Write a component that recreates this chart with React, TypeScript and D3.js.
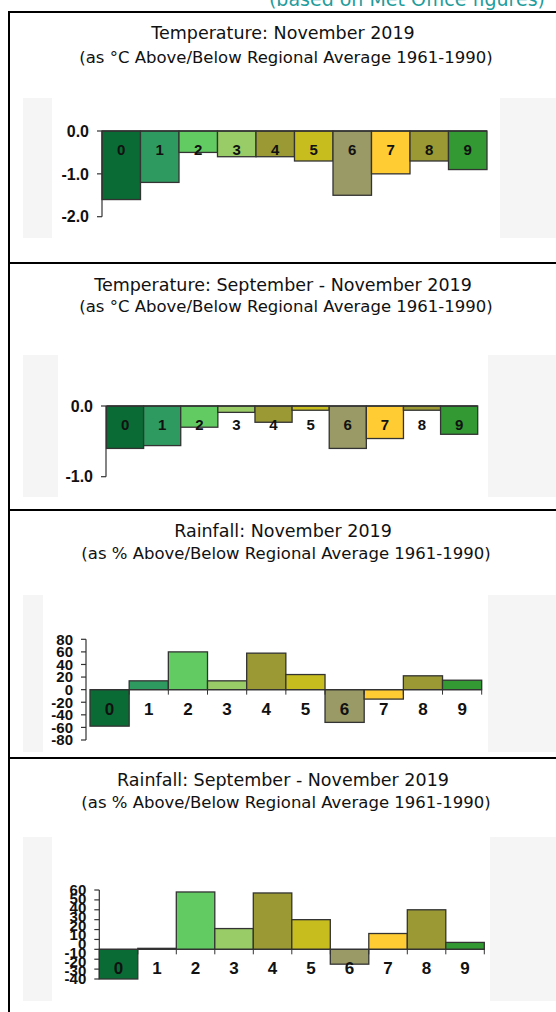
import React from 'react';
import * as d3 from 'd3';

const categories = ['0', '1', '2', '3', '4', '5', '6', '7', '8', '9'];
const barColors = ['#0b6b35', '#2f9a60', '#62cc62', '#99cc66', '#9a9933', '#c8bd1f', '#9a9a66', '#ffcc33', '#9a9933', '#339933'];

const tempNov = [-1.6, -1.2, -0.5, -0.6, -0.6, -0.7, -1.5, -1.0, -0.7, -0.9];
const tempSON = [-0.6, -0.56, -0.3, -0.09, -0.23, -0.06, -0.6, -0.46, -0.06, -0.4];
const rainNov = [-58, 14, 60, 14, 58, 24, -52, -15, 22, 15];
const rainSON = [-30, 1, 58, 21, 57, 30, -15, 16, 40, 7];

const tempNovTicks = [0, -1, -2];
const tempNovTickLabels = ['0.0', '-1.0', '-2.0'];
const tempSONTicks = [0, -1];
const tempSONTickLabels = ['0.0', '-1.0'];
const rainNovTicks = [80, 60, 40, 20, 0, -20, -40, -60, -80];
const rainNovTickLabels = ['80', '60', '40', '20', '0', '-20', '-40', '-60', '-80'];
const rainSONTicks = [60, 50, 40, 30, 20, 10, 0, -10, -20, -30];
const rainSONTickLabels = ['60', '50', '40', '30', '20', '10', '0', '-10', '-20', '-30', '-40'];

const titles = [
  'Temperature: November 2019',
  'Temperature: September - November 2019',
  'Rainfall: November 2019',
  'Rainfall: September - November 2019',
];
const subtitles = [
  '(as °C Above/Below Regional Average 1961-1990)',
  '(as °C Above/Below Regional Average 1961-1990)',
  '(as % Above/Below Regional Average 1961-1990)',
  '(as % Above/Below Regional Average 1961-1990)',
];
const headerNote = '(based on Met Office figures)';

const W = 556;
const H = 1012;

type PanelCfg = {
  values: number[];
  domain: [number, number];
  yRange: [number, number];
  axisX: number;
  barX: [number, number];
  ticks: number[];
  tickLabels: string[];
  labelRange: [number, number];
  labelY: number;
  catTicks: boolean;
  tickFont: number;
  catFont: number;
  bg: { y0: number; y1: number; wx0: number; wx1: number };
  titleY: number;
  subY: number;
  sepY: number;
};

const panels: PanelCfg[] = [
  {
    values: tempNov, domain: [0, -2], yRange: [131, 216.7], axisX: 102, barX: [102, 487],
    ticks: tempNovTicks, tickLabels: tempNovTickLabels, labelRange: [131, 216.7], labelY: 150,
    catTicks: false, tickFont: 16, catFont: 15,
    bg: { y0: 98, y1: 238, wx0: 52, wx1: 500 }, titleY: 39, subY: 63, sepY: 12,
  },
  {
    values: tempSON, domain: [0, -1], yRange: [406, 476.7], axisX: 106, barX: [106.5, 477.7],
    ticks: tempSONTicks, tickLabels: tempSONTickLabels, labelRange: [406, 476.7], labelY: 425,
    catTicks: false, tickFont: 16, catFont: 15,
    bg: { y0: 355, y1: 497, wx0: 58, wx1: 488 }, titleY: 291, subY: 312, sepY: 263,
  },
  {
    values: rainNov, domain: [-80, 80], yRange: [740, 639.3], axisX: 86, barX: [90, 481.7],
    ticks: rainNovTicks, tickLabels: rainNovTickLabels, labelRange: [639.3, 740], labelY: 709,
    catTicks: true, tickFont: 15, catFont: 17,
    bg: { y0: 595, y1: 752, wx0: 43, wx1: 488 }, titleY: 537, subY: 559, sepY: 510,
  },
  {
    values: rainSON, domain: [-30, 60], yRange: [979, 890], axisX: 99.3, barX: [99.3, 484.3],
    ticks: rainSONTicks, tickLabels: rainSONTickLabels, labelRange: [890, 979], labelY: 968,
    catTicks: true, tickFont: 15, catFont: 17,
    bg: { y0: 837, y1: 1001, wx0: 52, wx1: 490 }, titleY: 786, subY: 808, sepY: 758,
  },
];

function Panel({ cfg, idx }: { cfg: PanelCfg; idx: number }) {
  const x = d3.scaleBand<string>().domain(categories).range(cfg.barX).padding(0);
  const y = d3.scaleLinear().domain(cfg.domain).range(cfg.yRange);
  const labelPos = d3.scalePoint<string>().domain(cfg.tickLabels).range(cfg.labelRange);
  const y0 = y(0);
  const bw = x.bandwidth();
  const [yTop, yBot] = [Math.min(...cfg.yRange), Math.max(...cfg.yRange)];
  const bold = "'Liberation Sans', Arial, sans-serif";
  const sans = "'DejaVu Sans', Verdana, sans-serif";
  return (
    <g>
      <line x1={8} x2={W} y1={cfg.sepY} y2={cfg.sepY} stroke="#000" strokeWidth={2} />
      <text x={283} y={cfg.titleY} textAnchor="middle" fontFamily={sans} fontSize={17.5} fill="#111">{titles[idx]}</text>
      <text x={286} y={cfg.subY} textAnchor="middle" fontFamily={sans} fontSize={16.5} fill="#111">{subtitles[idx]}</text>
      <rect x={23} y={cfg.bg.y0} width={W - 23} height={cfg.bg.y1 - cfg.bg.y0} fill="#f5f5f5" />
      <rect x={cfg.bg.wx0} y={cfg.bg.y0} width={cfg.bg.wx1 - cfg.bg.wx0} height={cfg.bg.y1 - cfg.bg.y0} fill="#ffffff" />
      {cfg.values.map((v, i) => (
        <rect key={i} x={x(categories[i])} y={Math.min(y(v), y0)} width={bw} height={Math.abs(y(v) - y0)}
          fill={barColors[i]} stroke="#333" strokeWidth={1.3} />
      ))}
      <line x1={cfg.barX[0]} x2={cfg.barX[1]} y1={y0} y2={y0} stroke="#333" strokeWidth={1.3} />
      {cfg.catTicks && categories.map((c) => (
        <line key={c} x1={(x(c) as number) + bw} x2={(x(c) as number) + bw} y1={y0} y2={y0 + 5} stroke="#333" strokeWidth={1} />
      ))}
      <line x1={cfg.axisX} x2={cfg.axisX} y1={yTop} y2={yBot} stroke="#333" strokeWidth={1.2} />
      {cfg.ticks.map((t) => (
        <line key={t} x1={cfg.axisX - 5} x2={cfg.axisX} y1={y(t)} y2={y(t)} stroke="#333" strokeWidth={1.2} />
      ))}
      {cfg.tickLabels.map((l) => (
        <text key={l} x={cfg.axisX - 13} y={labelPos(l) as number} dy="0.36em" textAnchor="end"
          fontFamily={bold} fontWeight="bold" fontSize={cfg.tickFont} fill="#111">{l}</text>
      ))}
      {categories.map((c) => (
        <text key={c} x={(x(c) as number) + bw / 2} y={cfg.labelY} dy="0.36em" textAnchor="middle"
          fontFamily={bold} fontWeight="bold" fontSize={cfg.catFont} fill="#111">{c}</text>
      ))}
    </g>
  );
}

export default function App() {
  return (
    <svg width={W} height={H} style={{ position: 'absolute', left: 0, top: 0, background: '#fff' }}>
      <rect x={0} y={0} width={W} height={H} fill="#fff" />
      <text x={545} y={6} textAnchor="end" fontFamily="'DejaVu Sans', Verdana, sans-serif" fontSize={19} fill="#1f9c9c">{headerNote}</text>
      <line x1={9} x2={9} y1={11} y2={H} stroke="#000" strokeWidth={2} />
      {panels.map((p, i) => <Panel key={i} cfg={p} idx={i} />)}
    </svg>
  );
}
